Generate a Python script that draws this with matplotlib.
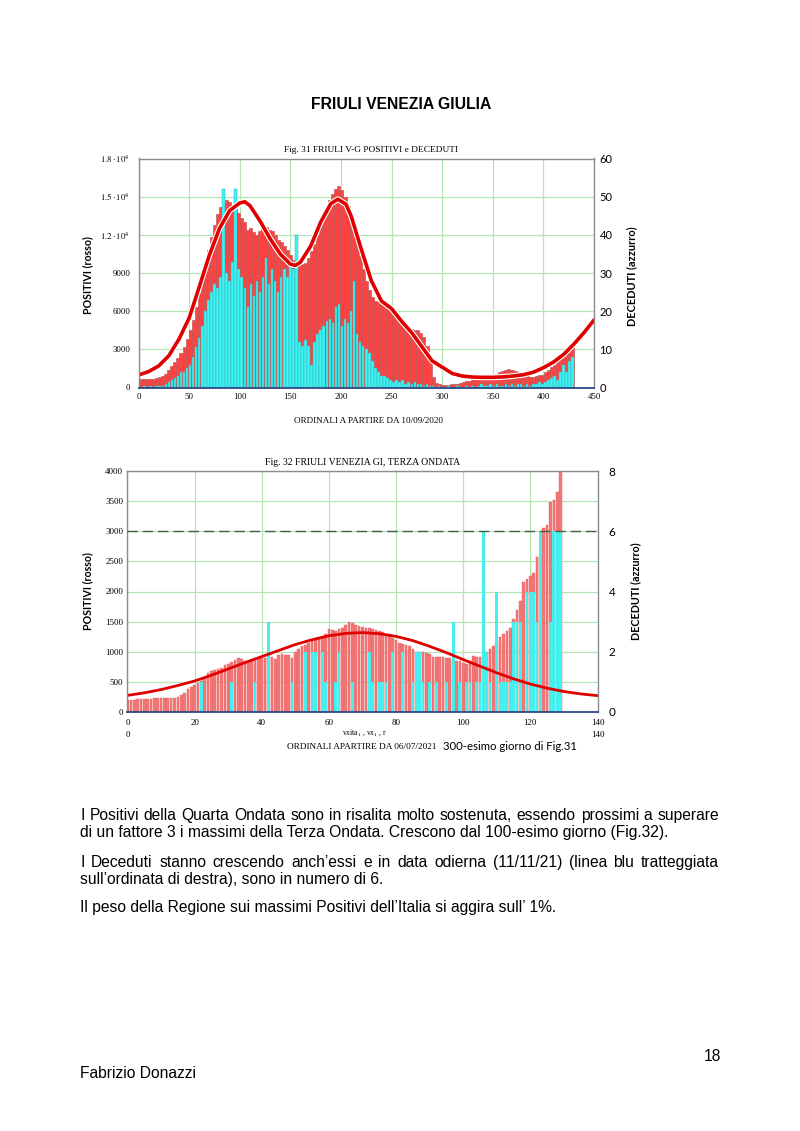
import numpy as np
import matplotlib
matplotlib.use("Agg")
import matplotlib.pyplot as plt
import matplotlib.patheffects as pe
from matplotlib.transforms import blended_transform_factory

plt.rcParams['mathtext.fontset'] = 'stix'

# ------------------------------------------------------------------ data
# Fig. 31  (one bar every 3 days, from 10/09/2020)
fig31_days = list(range(0, 430, 3))
fig31_positivi = [
    650, 650, 700, 650, 700, 700, 750, 800, 900, 1100,
    1400, 1700, 2000, 2300, 2700, 3200, 3800, 4500, 5300, 6300,
    7400, 8600, 9700, 10800, 11800, 12800, 13600, 14200, 14500, 14700,
    14600, 14300, 14000, 13700, 13300, 13000, 12400, 12500, 12200, 12000,
    12300, 12600, 12600, 12400, 12300, 12000, 11600, 11400, 11100, 10800,
    10400, 10000, 9700, 9600, 9700, 9800, 10200, 10700, 11300, 12000,
    12700, 13400, 14100, 14700, 15200, 15600, 15800, 15500, 15000, 14300,
    13400, 12400, 11300, 10300, 9300, 8400, 7700, 7100, 6800, 6700,
    6600, 6500, 6400, 6200, 5900, 5600, 5400, 5100, 4800, 4650,
    4600, 4550, 4500, 4300, 4000, 3300, 2000, 800, 350, 250,
    200, 200, 200, 250, 250, 300, 350, 400, 500, 550,
    650, 700, 750, 800, 850, 900, 950, 1000, 1100, 1200,
    1300, 1400, 1450, 1400, 1300, 1200, 1050, 950, 900, 850,
    850, 900, 950, 1000, 1200, 1400, 1600, 1800, 2000, 2300,
    2500, 2800, 3000, 3200]
fig31_deceduti = [
    0, 0, 0.5, 0, 0.5, 0, 0.5, 0.5, 0.5, 1,
    1.5, 2, 2.5, 3, 4, 4, 5, 6, 8, 10.5,
    13, 16, 20, 23, 25, 27, 26, 29, 52, 30,
    28, 33, 52, 31, 29, 26, 21, 27, 24, 28,
    25, 29, 34, 27, 31, 28, 25, 29, 31, 29,
    33, 31, 40, 12, 11, 12.5, 11, 6, 12, 14,
    15, 16, 17.5, 18, 17, 21, 22, 16, 18, 17,
    20, 28, 14, 12, 11, 10, 9, 7, 5, 4,
    3, 3, 2.5, 2, 1.5, 2, 1.5, 2, 1, 1.5,
    1, 1.5, 1, 1, 0.5, 1, 0.5, 0.5, 0, 0.5,
    0, 0, 0.5, 0, 0, 0.5, 0, 0, 0.5, 0,
    0.5, 0, 0.5, 1, 0.5, 0.5, 1, 0.5, 1, 0.5,
    0.5, 1, 0.5, 1, 0.5, 1, 1, 0.5, 1, 0.5,
    1, 1, 1.5, 1, 1.5, 2, 2.5, 3, 2, 4,
    6, 4, 7, 8]
fig31_fit_days = [0, 10, 20, 30, 40, 50, 60, 70, 80, 90,
                  100, 105, 110, 120, 130, 140, 150, 155, 160, 170,
                  180, 190, 197, 205, 210, 220, 230, 240, 250, 260,
                  270, 280, 290, 300, 310, 320, 330, 340, 350, 360,
                  370, 380, 390, 400, 410, 420, 430, 440, 450]
fig31_fit_vals = [980, 1250, 1700, 2500, 3800, 5450, 7900, 10400, 12500, 13900,
                  14500, 14600, 14300, 13100, 11700, 10500, 9700, 9600, 9850, 11100,
                  13000, 14450, 14800, 14400, 13500, 10900, 8400, 6800, 6200, 5200,
                  4300, 3200, 2100, 1600, 1100, 900, 820, 800, 800, 830,
                  900, 1000, 1200, 1550, 2000, 2600, 3400, 4300, 5300]
fig31_xticks = [0, 50, 100, 150, 200, 250, 300, 350, 400, 450]
fig31_yticks = [0, 3000, 6000, 9000, 12000, 15000, 18000]
fig31_ylabels = ['0', '3000', '6000', '9000', r'$1.2\cdot10^4$', r'$1.5\cdot10^4$', r'$1.8\cdot10^4$']
fig31_rticks = [0, 10, 20, 30, 40, 50, 60]

# Fig. 32  (daily, from 06/07/2021)
fig32_days = list(range(0, 130))
fig32_positivi = [
    200, 200, 205, 210, 215, 215, 220, 220, 225, 230,
    230, 235, 240, 240, 240, 250, 280, 320, 380, 410,
    440, 480, 520, 560, 640, 680, 700, 720, 730, 780,
    800, 830, 870, 890, 880, 850, 830, 840, 860, 880,
    900, 900, 950, 920, 880, 950, 960, 950, 940, 900,
    1000, 1050, 1100, 1120, 1150, 1200, 1200, 1220, 1250, 1300,
    1380, 1360, 1340, 1380, 1400, 1450, 1500, 1480, 1450, 1420,
    1410, 1400, 1400, 1380, 1360, 1350, 1320, 1300, 1260, 1230,
    1200, 1150, 1130, 1110, 1100, 1050, 1000, 1000, 1000, 980,
    960, 920, 910, 920, 920, 900, 900, 870, 850, 850,
    820, 800, 850, 930, 920, 920, 950, 1000, 1050, 1100,
    1150, 1250, 1300, 1350, 1400, 1550, 1700, 1850, 2150, 2200,
    2250, 2300, 2570, 2600, 3050, 3100, 3480, 3520, 3650, 4000]
fig32_deceduti = [
    0, 0, 0, 0, 0, 0, 0, 0, 0, 0,
    0, 0, 0, 0, 0, 0, 0, 0, 0, 0,
    0, 0, 1, 0, 0, 0, 0, 0, 0, 0,
    0, 1, 0, 0, 0, 0, 0, 0, 1, 0,
    0, 0, 3, 0, 0, 0, 0, 0, 0, 1,
    0, 0, 0, 2, 0, 2, 2, 0, 2, 1,
    0, 0, 1, 2, 0, 0, 0, 1, 0, 0,
    0, 0, 2, 1, 0, 1, 1, 1, 0, 2,
    0, 0, 2, 0, 0, 1, 2, 2, 1, 0,
    1, 0, 1, 0, 0, 1, 0, 3, 0, 1,
    0, 1, 1, 0, 1, 1, 6, 2, 1, 0,
    4, 1, 1, 1, 1, 3, 3, 3, 0, 4,
    4, 4, 3, 6, 0, 0, 3, 6, 6, 6]
fig32_fit_days = [0, 5, 10, 15, 20, 25, 30, 35, 40, 45, 50, 55, 60, 65, 70,
                  75, 80, 85, 90, 95, 100, 105, 110, 115, 120, 125, 130, 135, 140]
fig32_fit_vals = [276, 318, 372, 440, 515, 610, 715, 820, 920, 1020, 1120, 1200, 1265, 1305, 1318,
                  1300, 1255, 1185, 1090, 985, 870, 760, 650, 550, 465, 395, 340, 300, 272]
fig32_oggi_deceduti = 6
fig32_xticks = [0, 20, 40, 60, 80, 100, 120, 140]
fig32_yticks = [0, 500, 1000, 1500, 2000, 2500, 3000, 3500, 4000]
fig32_rticks = [0, 2, 4, 6, 8]

body_lines = [
    "I Positivi della Quarta Ondata sono in risalita molto sostenuta, essendo prossimi a superare",
    "di un fattore 3 i massimi della Terza Ondata. Crescono dal 100-esimo giorno (Fig.32).",
    "I Deceduti stanno crescendo anch\u2019essi e in data odierna (11/11/21) (linea blu tratteggiata",
    "sull\u2019ordinata di destra), sono in numero di 6.",
    "Il peso della Regione sui massimi Positivi dell\u2019Italia si aggira sull\u2019 1%.",
]

# ------------------------------------------------------------------ figure
W, H = 800, 1131
fig = plt.figure(figsize=(8, 11.31), dpi=100)
fig.patch.set_facecolor('white')
renderer = fig.canvas.get_renderer()

SERIF = 'Liberation Serif'
SANS = 'Liberation Sans'
CAL = 'Lato'

def fx(x):
    return x / W

def fy(y):
    return 1 - y / H

def fit_text(x, y, s, target, rot=0, ha='center', va='center', **kw):
    t = fig.text(fx(x), fy(y), s, fontsize=10, rotation=rot, ha=ha, va=va, **kw)
    bb = t.get_window_extent(renderer)
    size = bb.height if rot == 90 else bb.width
    t.set_fontsize(10 * target / size)
    return t

def axes_rect(x0, x1, y_bottom, y_top):
    return [fx(x0), fy(y_bottom), (x1 - x0) / W, (y_bottom - y_top) / H]

GRID = '#b4e6b4'
RED_BAR = '#ff4343'
CYAN = '#38f6f6'
CURVE = '#e00000'

def style_top(ax, xlim, ylim):
    ax.set_xlim(*xlim)
    ax.set_ylim(*ylim)
    ax.set_facecolor('none')
    ax.set_xticks([])
    ax.set_yticks([])
    for s in ['left', 'top', 'right']:
        ax.spines[s].set_color('#8c8c8c')
        ax.spines[s].set_linewidth(1.0)
    ax.spines['bottom'].set_color('#2c4a86')
    ax.spines['bottom'].set_linewidth(1.3)

# ---------------- Fig. 31
rect1 = axes_rect(138.5, 594, 387.5, 158.5)
a1 = fig.add_axes(rect1)
a1.set_xlim(0, 450)
a1.set_ylim(0, 18000)
a1.set_axisbelow(True)
a1.grid(True, color=GRID, lw=0.9)
a1.bar(fig31_days, fig31_positivi, width=3.0, color=RED_BAR, edgecolor='#b45454', linewidth=0.45)
a1.set_xticks(fig31_xticks, [str(v) for v in fig31_xticks], fontsize=6.3, family=SERIF)
a1.set_yticks(fig31_yticks, fig31_ylabels, fontsize=6.3, family=SERIF)
a1.tick_params(axis='x', length=0, pad=3.8)
a1.tick_params(axis='y', length=0, pad=6.0)
for s in a1.spines.values():
    s.set_visible(False)

a1c = a1.twinx()
a1c.set_ylim(0, 60)
a1c.bar(fig31_days, fig31_deceduti, width=2.5, color=CYAN, edgecolor='#4fa6a6', linewidth=0.35)
a1c.set_yticks(fig31_rticks, [str(v) for v in fig31_rticks], fontsize=8, family=CAL)
a1c.tick_params(axis='y', length=0, pad=4)
for s in a1c.spines.values():
    s.set_visible(False)

a1t = fig.add_axes(rect1)
style_top(a1t, (0, 450), (0, 18000))
a1t.plot(fig31_fit_days, fig31_fit_vals, color=CURVE, lw=2.6, solid_capstyle='round',
         path_effects=[pe.Stroke(linewidth=4.2, foreground='white'), pe.Normal()])

fit_text(371, 150, "Fig. 31 FRIULI V-G POSITIVI e DECEDUTI", 175, family=SERIF)
fit_text(368, 421, "ORDINALI A PARTIRE DA 10/09/2020", 150, family=SERIF)
fit_text(88, 275, "POSITIVI (rosso)", 78, rot=90, family=CAL, weight='bold')
fit_text(632, 276, "DECEDUTI (azzurro)", 100, rot=90, family=CAL, weight='bold')

# ---------------- Fig. 32
rect2 = axes_rect(127.5, 597.5, 712, 471)
b1 = fig.add_axes(rect2)
b1.set_xlim(0, 140)
b1.set_ylim(0, 4000)
b1.set_axisbelow(True)
b1.grid(True, color=GRID, lw=0.9)
b1.bar(fig32_days, fig32_positivi, width=0.78, color='#f27878', edgecolor='#e86060', linewidth=0.3)
b1.set_xticks(fig32_xticks, [str(v) for v in fig32_xticks], fontsize=6.5, family=SERIF)
b1.set_yticks(fig32_yticks, [str(v) for v in fig32_yticks], fontsize=6.5, family=SERIF)
b1.tick_params(axis='x', length=0, pad=5.0)
b1.tick_params(axis='y', length=0, pad=3.0)
for s in b1.spines.values():
    s.set_visible(False)

b1c = b1.twinx()
b1c.set_ylim(0, 8)
b1c.bar(fig32_days, fig32_deceduti, width=0.85, color='#46eeee', linewidth=0)
b1c.set_yticks(fig32_rticks, [str(v) for v in fig32_rticks], fontsize=8.5, family=CAL)
b1c.tick_params(axis='y', length=0, pad=8)
for s in b1c.spines.values():
    s.set_visible(False)

b1t = fig.add_axes(rect2)
style_top(b1t, (0, 140), (0, 4000))
b1t.plot(fig32_fit_days, fig32_fit_vals, color=CURVE, lw=2.0, solid_capstyle='round')
b1d = fig.add_axes(rect2)
style_top(b1d, (0, 140), (0, 8))
for s in b1d.spines.values():
    s.set_visible(False)
b1d.axhline(fig32_oggi_deceduti, color='#4a5a4a', lw=1.0, dashes=(7.5, 3.5))

tr = blended_transform_factory(b1.transData, fig.transFigure)
b1.text(0, fy(735), "0", transform=tr, ha='center', va='center', fontsize=6.5, family=SERIF)
b1.text(140, fy(735), "140", transform=tr, ha='center', va='center', fontsize=6.5, family=SERIF)
fig.text(fx(365), fy(733), r"vxita$_1$ , vx$_1$ , r", ha='center', va='center', fontsize=5.5, family=SERIF)

fit_text(363, 462, "Fig. 32 FRIULI VENEZIA GI, TERZA ONDATA", 196, family=SERIF)
fit_text(287, 747, "ORDINALI APARTIRE DA 06/07/2021", 151, ha='left', family=SERIF)
fit_text(443, 747, "300-esimo giorno di Fig.31", 134, ha='left', family=CAL)
fit_text(88, 591, "POSITIVI (rosso)", 78, rot=90, family=CAL, weight='bold')
fit_text(636, 591, "DECEDUTI (azzurro)", 97, rot=90, family=CAL, weight='bold')

# ---------------- page text
fit_text(401, 109, "FRIULI VENEZIA GIULIA", 180, va='baseline', family=SANS, weight='bold')

# body font size from the (unjustified) second line
probe = fig.text(0, 0, body_lines[1], fontsize=10, family=SANS)
body_fs = 10 * 592 / probe.get_window_extent(renderer).width
probe.remove()

LEFT, RIGHT = 80, 719

def justified(y, s):
    words = s.split(' ')
    ts = [fig.text(0, fy(y), w, fontsize=body_fs, family=SANS, ha='left', va='baseline') for w in words]
    ws = [t.get_window_extent(renderer).width for t in ts]
    gap = (RIGHT - LEFT - sum(ws)) / (len(words) - 1)
    x = LEFT
    for t, w in zip(ts, ws):
        t.set_x(fx(x))
        x += w + gap

def plain(y, s):
    fig.text(fx(LEFT), fy(y), s, fontsize=body_fs, family=SANS, ha='left', va='baseline')

justified(820, body_lines[0])
plain(837, body_lines[1])
justified(867, body_lines[2])
plain(884, body_lines[3])
plain(912, body_lines[4])

fig.text(fx(721), fy(1061), "18", fontsize=body_fs, family=SANS, ha='right', va='baseline')
fig.text(fx(LEFT), fy(1078), "Fabrizio Donazzi", fontsize=body_fs, family=SANS, ha='left', va='baseline')

fig.savefig("out.png", dpi=100, facecolor='white')
